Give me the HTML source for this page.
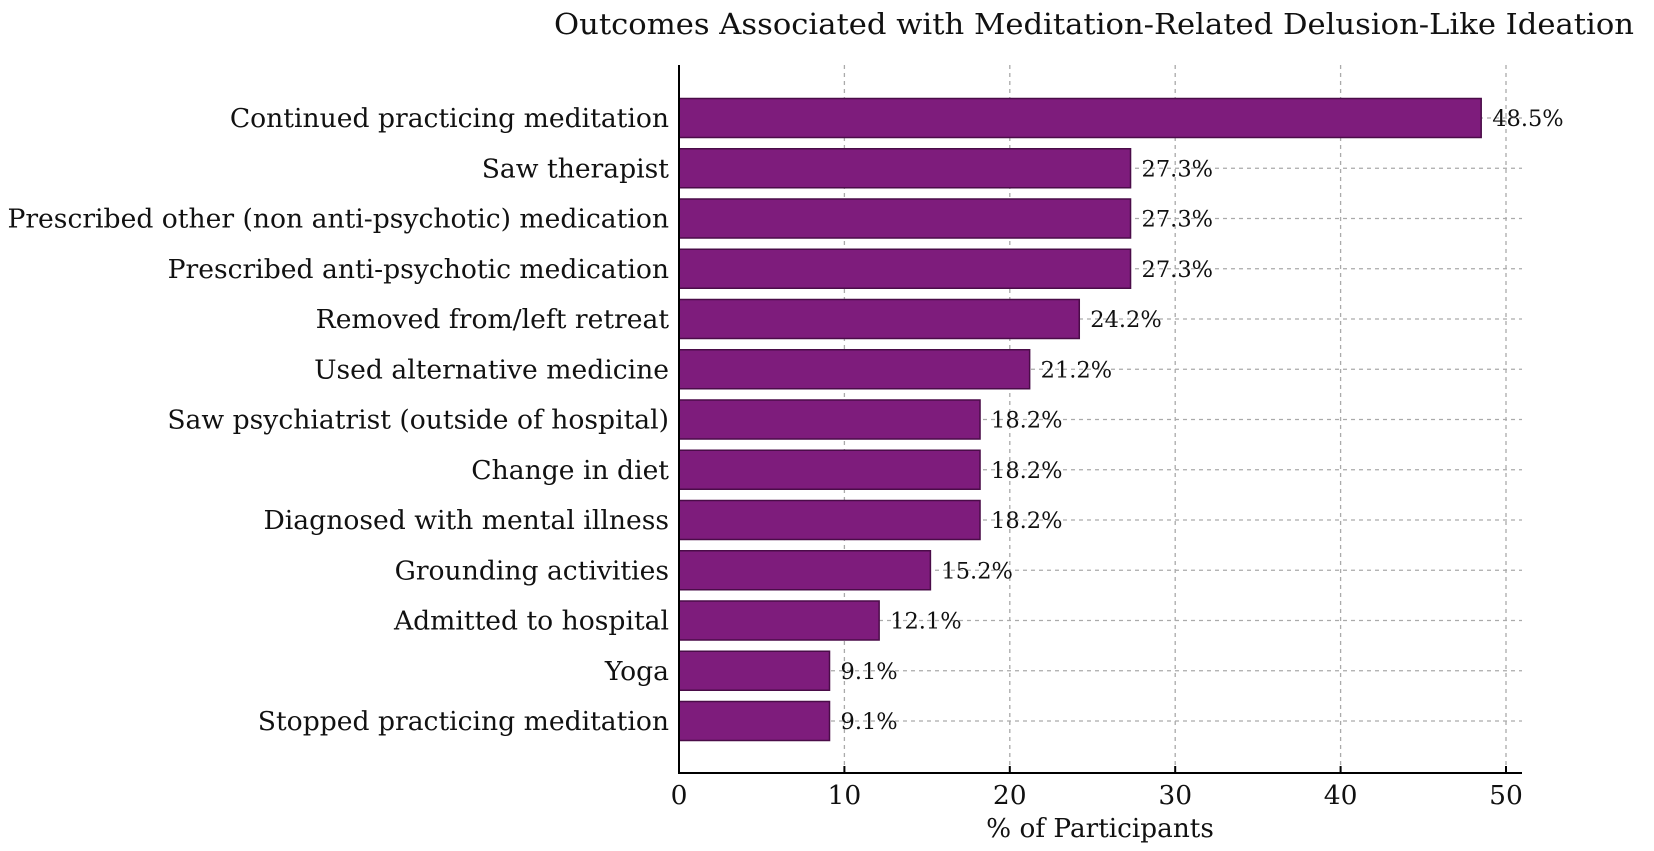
<!DOCTYPE html>
<html><head><meta charset="utf-8"><style>
html,body{margin:0;padding:0;background:#fff}
svg{display:block;font-family:"DejaVu Serif","Liberation Serif",serif}
</style></head><body>
<svg id="chart" width="1654" height="851" viewBox="0 0 1654 851">
<text x="1094" y="34" font-size="29" text-anchor="middle" textLength="1080" lengthAdjust="spacingAndGlyphs" fill="#111">Outcomes Associated with Meditation-Related Delusion-Like Ideation</text>
<g id="grid"></g><g id="bars"></g><g id="axes"></g>
</svg>
<script>
const categories=["Continued practicing meditation","Saw therapist","Prescribed other (non anti-psychotic) medication","Prescribed anti-psychotic medication","Removed from/left retreat","Used alternative medicine","Saw psychiatrist (outside of hospital)","Change in diet","Diagnosed with mental illness","Grounding activities","Admitted to hospital","Yoga","Stopped practicing meditation"];
const values=[48.5,27.3,27.3,27.3,24.2,21.2,18.2,18.2,18.2,15.2,12.1,9.1,9.1];
const valueLabels=["48.5%","27.3%","27.3%","27.3%","24.2%","21.2%","18.2%","18.2%","18.2%","15.2%","12.1%","9.1%","9.1%"];
const ticks=[0,10,20,30,40,50];
const tickLabels=["0","10","20","30","40","50"];

const NS="http://www.w3.org/2000/svg";
const x0=679,pxPerUnit=16.54,xEnd=1522,yTop=65,yAxis=773,firstC=118,step=50.25,barH=39;
const xs=v=>x0+v*pxPerUnit;
const yc=i=>firstC+i*step;
function mk(tag,attrs,parent,text){const e=document.createElementNS(NS,tag);for(const k in attrs)e.setAttribute(k,attrs[k]);if(text!==undefined)e.textContent=text;parent.appendChild(e);return e;}
const grid=document.getElementById('grid'),bars=document.getElementById('bars'),axes=document.getElementById('axes');
ticks.forEach((t,i)=>{
  if(t>0){const g=mk('line',{x1:xs(t),x2:xs(t),y1:yTop,y2:yAxis,stroke:'#aaa','stroke-width':1.3,'stroke-dasharray':'4,4'},grid);
  
  }
  const tk=mk('line',{x1:xs(t),x2:xs(t),y1:yAxis,y2:yAxis-7,stroke:'#000','stroke-width':2},axes);
  
  
  const tl=mk('text',{x:xs(t),y:yAxis+31,'font-size':26.5,'text-anchor':'middle',fill:'#111'},axes,tickLabels[i]);
  
  
});
categories.forEach((c,i)=>{
  const y=yc(i);
  const gl=mk('line',{x1:x0,x2:xEnd,y1:y,y2:y,stroke:'#aaa','stroke-width':1.3,'stroke-dasharray':'4,4'},grid);
  
  
  const r=mk('rect',{x:x0,y:y-barH/2,width:xs(values[i])-x0,height:barH,fill:'#7e1c7c',stroke:'#4a0c48','stroke-width':1.5},bars);
  
  
  const vl=mk('text',{x:xs(values[i])+11,y:y+8,'font-size':22.5,fill:'#111'},bars,valueLabels[i]);
  
  
  const cl=mk('text',{x:669,y:y+9,'font-size':26.6,'text-anchor':'end',fill:'#111'},axes,c);
  
  
});
const ls=mk('line',{x1:x0,x2:x0,y1:yTop,y2:yAxis+1,stroke:'#000','stroke-width':2},axes);


const bs=mk('line',{x1:x0-1,x2:xEnd,y1:yAxis,y2:yAxis,stroke:'#000','stroke-width':2},axes);


const xt=mk('text',{x:1100,y:837,'font-size':26.3,'text-anchor':'middle',fill:'#111'},axes,'% of Participants');


</script>
</body></html>
